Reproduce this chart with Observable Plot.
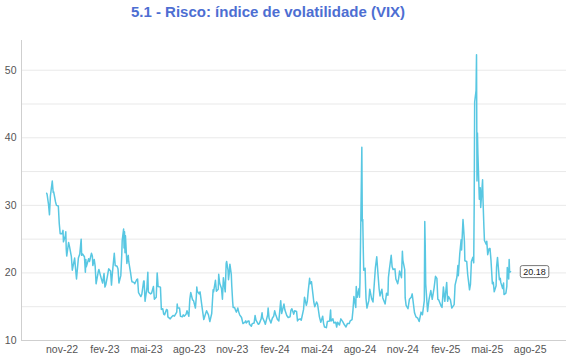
<!DOCTYPE html>
<html><head><meta charset="utf-8">
<script src="https://cdn.jsdelivr.net/npm/d3@7"></script>
<script src="https://cdn.jsdelivr.net/npm/@observablehq/plot@0.6"></script>
<style>
body{margin:0;background:#fff;font-family:"Liberation Sans",Arial,sans-serif;}
#title{width:570px;height:28px;box-sizing:border-box;padding-right:34px;text-align:center;font:bold 15px "Liberation Sans",Arial,sans-serif;line-height:24px;color:#4d6ed2;}
</style></head><body>
<div id="title">5.1 - Risco: índice de volatilidade (VIX)</div>
<div id="chart"></div>
<script>
const vix2022 = [
["2022-09-29",31.8],["2022-09-30",31.6],["2022-10-03",30.1],["2022-10-05",28.6],["2022-10-07",31.4],["2022-10-11",33.6],
["2022-10-13",31.9],["2022-10-14",32.0],["2022-10-18",30.5],["2022-10-20",30.0],["2022-10-24",29.9],["2022-10-26",27.3],
["2022-10-28",25.8],["2022-11-01",25.8],["2022-11-03",26.3],["2022-11-04",24.6],["2022-11-08",25.5],["2022-11-09",26.1],
["2022-11-10",23.5],["2022-11-11",22.5],["2022-11-15",24.5],["2022-11-17",23.9],["2022-11-21",22.4],["2022-11-23",20.4],
["2022-11-28",22.2],["2022-11-30",20.6],["2022-12-02",19.1],["2022-12-06",22.2],["2022-12-09",22.8],["2022-12-12",25.0],
["2022-12-13",22.6],["2022-12-15",22.8],["2022-12-19",22.4],["2022-12-21",20.1],["2022-12-22",22.0],["2022-12-23",20.9],
["2022-12-28",22.1],["2022-12-30",21.7]
];
const vix2023 = [
["2023-01-03",22.9],["2023-01-05",22.5],["2023-01-06",21.1],["2023-01-09",22.0],["2023-01-11",21.0],["2023-01-13",18.4],
["2023-01-18",20.3],["2023-01-19",20.5],["2023-01-24",19.2],["2023-01-27",18.5],["2023-01-30",19.9],["2023-02-01",17.9],
["2023-02-03",18.3],["2023-02-06",19.4],["2023-02-09",20.6],["2023-02-13",20.3],["2023-02-15",18.2],["2023-02-17",20.0],
["2023-02-21",22.9],["2023-02-23",21.1],["2023-02-27",21.0],["2023-03-01",20.6],["2023-03-03",18.5],["2023-03-07",19.6],
["2023-03-09",22.6],["2023-03-10",24.8],["2023-03-13",26.5],["2023-03-14",23.7],["2023-03-15",26.1],["2023-03-16",23.0],
["2023-03-17",25.5],["2023-03-20",21.4],["2023-03-22",22.3],["2023-03-23",22.6],["2023-03-24",21.7],["2023-03-28",20.0],
["2023-03-30",19.0],["2023-03-31",18.7],["2023-04-04",18.6],["2023-04-06",18.4],["2023-04-10",19.0],["2023-04-12",19.1],
["2023-04-14",17.1],["2023-04-19",16.5],["2023-04-21",16.8],["2023-04-25",18.8],["2023-04-26",18.8],["2023-04-28",15.8],
["2023-05-02",17.8],["2023-05-04",20.1],["2023-05-05",17.2],["2023-05-08",17.0],["2023-05-10",16.9],["2023-05-12",17.0],
["2023-05-16",18.0],["2023-05-18",16.1],["2023-05-22",16.4],["2023-05-24",20.0],["2023-05-25",19.1],["2023-05-26",18.0],
["2023-05-31",17.9],["2023-06-02",14.6],["2023-06-05",14.7],["2023-06-07",13.9],["2023-06-09",13.8],["2023-06-13",14.6],
["2023-06-15",14.5],["2023-06-16",13.5],["2023-06-21",13.2],["2023-06-23",13.4],["2023-06-27",13.7],["2023-06-30",13.6],
["2023-07-05",14.2],["2023-07-06",15.4],["2023-07-07",14.8],["2023-07-11",14.8],["2023-07-13",13.6],["2023-07-17",13.5],
["2023-07-19",13.8],["2023-07-21",13.6],["2023-07-25",13.9],["2023-07-27",14.4],["2023-07-31",13.6],["2023-08-02",16.1],
["2023-08-04",17.1],["2023-08-08",16.0],["2023-08-10",15.9],["2023-08-14",14.8],["2023-08-16",16.5],["2023-08-17",17.9],
["2023-08-18",17.3],["2023-08-22",16.9],["2023-08-24",17.2],["2023-08-28",15.1],["2023-08-30",14.1],["2023-09-01",13.1],
["2023-09-05",14.0],["2023-09-07",14.4],["2023-09-11",13.8],["2023-09-14",12.8],["2023-09-18",14.0],["2023-09-21",17.5],
["2023-09-22",17.2],["2023-09-26",18.9],["2023-09-28",17.3],["2023-10-02",17.6],["2023-10-03",19.8],["2023-10-05",18.5],
["2023-10-09",17.7],["2023-10-11",16.1],["2023-10-13",19.3],["2023-10-17",17.2],["2023-10-19",21.4],["2023-10-20",21.7],
["2023-10-23",20.4],["2023-10-24",19.0],["2023-10-26",20.2],["2023-10-27",21.3],["2023-10-30",19.8],["2023-10-31",18.1],
["2023-11-02",15.7],["2023-11-03",14.9],["2023-11-06",14.9],["2023-11-08",14.5],["2023-11-10",14.2],["2023-11-13",14.8],
["2023-11-15",14.2],["2023-11-17",13.8],["2023-11-21",13.4],["2023-11-24",12.5],["2023-11-28",12.7],["2023-11-30",12.9],
["2023-12-01",12.6],["2023-12-05",12.9],["2023-12-07",12.9],["2023-12-08",12.4],["2023-12-12",12.1],["2023-12-14",12.5],
["2023-12-18",12.6],["2023-12-20",13.7],["2023-12-22",13.0],["2023-12-27",12.4],["2023-12-29",12.5]
];
const vix2024 = [
["2024-01-02",13.2],["2024-01-04",14.1],["2024-01-05",13.4],["2024-01-09",12.8],["2024-01-11",12.4],["2024-01-16",13.8],
["2024-01-17",14.8],["2024-01-19",13.3],["2024-01-23",12.6],["2024-01-26",13.3],["2024-01-29",13.6],["2024-01-31",14.4],
["2024-02-02",13.9],["2024-02-06",13.1],["2024-02-09",12.9],["2024-02-13",15.9],["2024-02-15",14.0],["2024-02-20",15.4],
["2024-02-22",14.5],["2024-02-26",13.7],["2024-02-29",13.4],["2024-03-04",13.5],["2024-03-06",14.5],["2024-03-08",14.7],
["2024-03-12",13.9],["2024-03-14",14.4],["2024-03-18",14.3],["2024-03-20",12.9],["2024-03-22",13.1],["2024-03-26",13.2],
["2024-03-28",13.0],["2024-04-02",14.6],["2024-04-04",16.4],["2024-04-08",15.2],["2024-04-10",15.8],["2024-04-12",17.3],
["2024-04-15",19.2],["2024-04-16",18.4],["2024-04-19",18.7],["2024-04-22",16.9],["2024-04-24",15.7],["2024-04-26",15.0],
["2024-04-30",15.7],["2024-05-02",15.4],["2024-05-06",13.5],["2024-05-09",12.7],["2024-05-13",13.6],["2024-05-15",12.5],
["2024-05-17",12.0],["2024-05-21",11.9],["2024-05-23",12.8],["2024-05-28",12.9],["2024-05-30",14.5],["2024-05-31",12.9],
["2024-06-04",13.2],["2024-06-06",12.6],["2024-06-10",12.7],["2024-06-12",12.0],["2024-06-14",12.7],["2024-06-18",12.3],
["2024-06-21",13.2],["2024-06-25",12.8],["2024-06-28",12.4],["2024-07-02",12.0],["2024-07-05",12.5],["2024-07-09",12.5],
["2024-07-11",12.9],["2024-07-15",13.1],["2024-07-17",14.5],["2024-07-19",16.5],["2024-07-23",14.9],["2024-07-24",18.0],
["2024-07-26",16.4],["2024-07-30",17.7],["2024-07-31",16.4],["2024-08-01",18.6],["2024-08-02",23.4],["2024-08-05",38.6],
["2024-08-06",27.7],["2024-08-07",27.9],["2024-08-08",23.8],["2024-08-09",20.4],["2024-08-12",20.7],["2024-08-13",18.1],
["2024-08-14",16.2],["2024-08-16",14.8],["2024-08-20",15.9],["2024-08-22",17.6],["2024-08-26",16.2],["2024-08-29",15.7],
["2024-09-03",20.7],["2024-09-06",22.4],["2024-09-09",19.5],["2024-09-11",17.7],["2024-09-13",16.6],["2024-09-17",17.6],
["2024-09-19",16.3],["2024-09-24",15.4],["2024-09-27",17.0],["2024-09-30",16.7],["2024-10-01",19.3],["2024-10-03",20.5],
["2024-10-07",22.6],["2024-10-09",20.9],["2024-10-11",20.5],["2024-10-15",20.6],["2024-10-17",19.1],["2024-10-21",18.4],
["2024-10-23",19.2],["2024-10-25",20.3],["2024-10-29",19.3],["2024-10-31",23.2],["2024-11-01",21.9],["2024-11-05",20.5],
["2024-11-06",16.3],["2024-11-08",15.2],["2024-11-12",14.7],["2024-11-15",16.1],["2024-11-19",16.4],["2024-11-21",16.9],
["2024-11-26",14.1],["2024-11-29",13.5],["2024-12-03",13.3],["2024-12-06",12.8],["2024-12-10",14.2],["2024-12-13",13.8],
["2024-12-17",15.9],["2024-12-18",27.6],["2024-12-19",24.1],["2024-12-20",18.4],["2024-12-24",14.3],["2024-12-27",16.0],
["2024-12-31",17.4]
];
const vix2025 = [
["2025-01-03",16.1],["2025-01-07",17.8],["2025-01-10",19.5],["2025-01-13",19.2],["2025-01-15",16.1],["2025-01-17",16.0],
["2025-01-22",15.1],["2025-01-24",14.9],["2025-01-27",17.9],["2025-01-30",15.8],["2025-02-03",18.6],["2025-02-05",15.8],
["2025-02-07",16.5],["2025-02-11",16.0],["2025-02-14",14.8],["2025-02-19",15.3],["2025-02-21",18.2],["2025-02-25",19.4],
["2025-02-27",21.1],["2025-02-28",19.6],["2025-03-03",22.8],["2025-03-04",23.5],["2025-03-06",24.9],["2025-03-07",23.4],
["2025-03-10",27.9],["2025-03-11",26.9],["2025-03-13",24.7],["2025-03-14",21.8],["2025-03-18",21.7],["2025-03-20",19.8],
["2025-03-24",17.5],["2025-03-26",18.3],["2025-03-28",21.7],["2025-03-31",22.3],["2025-04-02",21.5],["2025-04-03",30.0],
["2025-04-04",45.3],["2025-04-07",47.0],["2025-04-08",52.3],["2025-04-09",33.6],["2025-04-10",40.7],["2025-04-11",37.6],
["2025-04-14",30.9],["2025-04-16",32.6],["2025-04-17",29.7],["2025-04-21",33.8],["2025-04-22",30.6],["2025-04-24",26.5],
["2025-04-25",24.8],["2025-04-29",24.2],["2025-04-30",24.7],["2025-05-02",22.7],["2025-05-05",23.6],["2025-05-07",23.6],
["2025-05-09",21.9],["2025-05-12",18.4],["2025-05-14",18.6],["2025-05-16",17.2],["2025-05-20",18.1],["2025-05-21",20.9],
["2025-05-23",22.3],["2025-05-27",19.0],["2025-05-29",19.2],["2025-05-30",18.6],["2025-06-03",17.7],["2025-06-05",18.5],
["2025-06-06",16.8],["2025-06-10",17.0],["2025-06-12",18.0],["2025-06-13",20.8],["2025-06-16",19.1],["2025-06-17",22.0],
["2025-06-18",20.1],["2025-06-20",20.18]
];
const tickDates = ["2022-11-01","2023-02-01","2023-05-01","2023-08-01","2023-11-01","2024-02-01","2024-05-01","2024-08-01","2024-11-01","2025-02-01","2025-05-01","2025-08-01"];
const tickLabels = ["nov-22","fev-23","mai-23","ago-23","nov-23","fev-24","mai-24","ago-24","nov-24","fev-25","mai-25","ago-25"];
const yGrid = [10,15,20,25,30,35,40,45,50];
const yLabels = [10,20,30,40,50];

const data = [...vix2022, ...vix2023, ...vix2024, ...vix2025].map(([d, v]) => ({date: new Date(d), value: v}));
const last = data[data.length - 1];
const tDates = tickDates.map(d => new Date(d));
const xStart = new Date("2022-08-06"), xEnd = new Date("2025-10-18");

const chart = Plot.plot({
  width: 570, height: 332,
  marginTop: 12, marginBottom: 20, marginLeft: 21, marginRight: 4,
  style: {fontFamily: "'Liberation Sans', Arial, sans-serif", fontSize: "10.5px", color: "#555", background: "white"},
  x: {type: "utc", domain: [xStart, xEnd], ticks: tDates, tickSize: 0, tickPadding: 5,
      tickFormat: d => { const i = tDates.findIndex(t => +t === +d); return i >= 0 ? tickLabels[i] : ""; }, label: null},
  y: {domain: [10, 54.4], ticks: yLabels, tickSize: 0, tickPadding: 5, label: null},
  marks: [
    Plot.ruleY(yGrid, {stroke: "#e9e9e9", strokeWidth: 1}),
    Plot.ruleY([10], {stroke: "#cfcfcf", strokeWidth: 1}),
    Plot.ruleX([xStart], {stroke: "#cfcfcf", strokeWidth: 1}),
    Plot.lineY(data, {x: "date", y: "value", stroke: "#58c7e2", strokeWidth: 1.5}),
    Plot.text([last], {x: "date", y: "value", text: d => d.value.toFixed(2), dx: 24, fontSize: 9, fill: "#222"})
  ]
});
document.getElementById("chart").append(chart);
chart.querySelectorAll('g[aria-label="text"] text').forEach(t => {
  const b = t.getBBox();
  const r = document.createElementNS("http://www.w3.org/2000/svg", "rect");
  r.setAttribute("x", b.x - 3); r.setAttribute("y", b.y - 1);
  r.setAttribute("width", b.width + 6); r.setAttribute("height", b.height + 2);
  r.setAttribute("rx", 2); r.setAttribute("fill", "white"); r.setAttribute("stroke", "#555"); r.setAttribute("stroke-width", 0.8);
  if (t.getAttribute("transform")) r.setAttribute("transform", t.getAttribute("transform"));
  t.parentNode.insertBefore(r, t);
});
</script></body></html>
